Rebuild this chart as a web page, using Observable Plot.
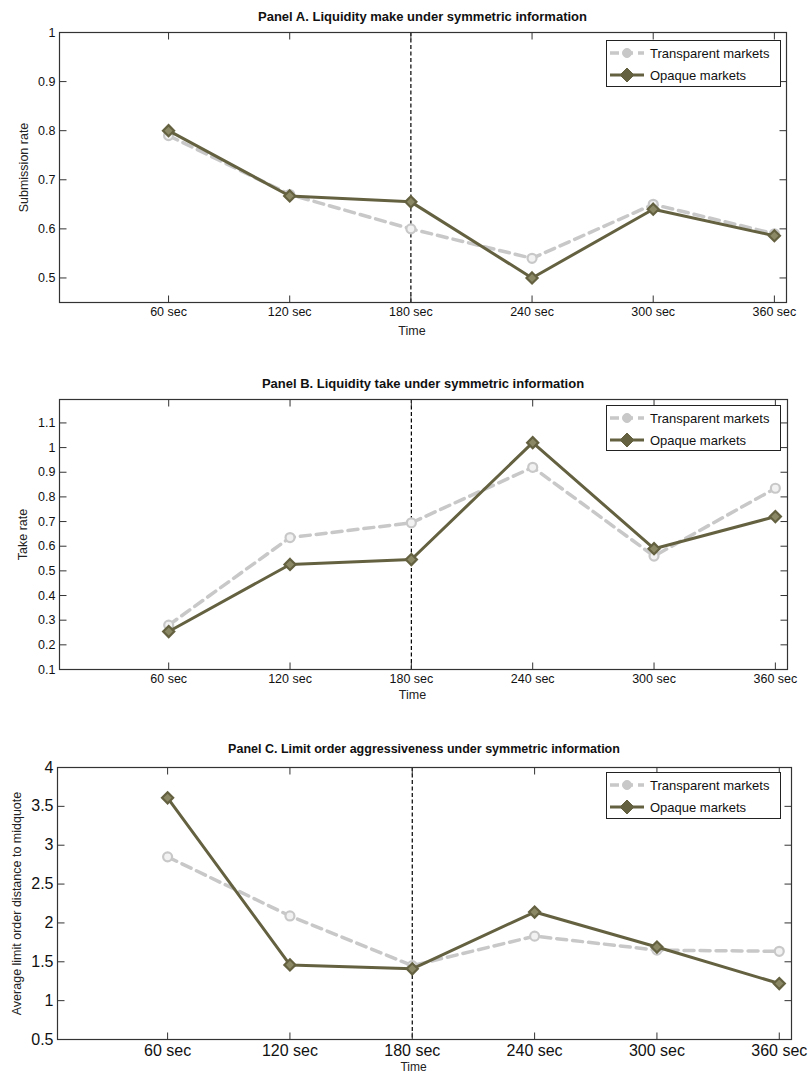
<!DOCTYPE html>
<html>
<head>
<meta charset="utf-8">
<script src="https://cdn.jsdelivr.net/npm/d3@7"></script>
<script src="https://cdn.jsdelivr.net/npm/@observablehq/plot@0.6"></script>
<style>
  body { margin: 0; background: white; font-family: "Liberation Sans", Arial, sans-serif; }
  #wrap { position: relative; width: 808px; height: 1076px; overflow: hidden; background: white; }
  .title { position: absolute; font-weight: bold; font-size: 13px; color: #111; white-space: nowrap; transform: translate(-50%, -50%); }
  .panel { position: absolute; left: 0; }
  .legend { position: absolute; border: 1px solid #222; background: white; box-sizing: border-box; }
  .legend .row { position: absolute; left: 0; height: 20px; display: flex; align-items: center; }
  .legend .row span { font-size: 13px; color: #111; margin-left: 3px; white-space: nowrap; }
</style>
</head>
<body>
<div id="wrap"></div>
<script>
// ---- data ----
const times = [60, 120, 180, 240, 300, 360];
const timeLabels = ["60 sec", "120 sec", "180 sec", "240 sec", "300 sec", "360 sec"];
const seriesNames = ["Transparent markets", "Opaque markets"];

const makeTransparent = [0.79, 0.67, 0.60, 0.54, 0.65, 0.59];
const makeOpaque      = [0.80, 0.667, 0.655, 0.50, 0.64, 0.586];

const takeTransparent = [0.28, 0.635, 0.695, 0.92, 0.56, 0.835];
const takeOpaque      = [0.254, 0.526, 0.546, 1.02, 0.59, 0.72];

const aggrTransparent = [2.85, 2.09, 1.45, 1.83, 1.65, 1.635];
const aggrOpaque      = [3.61, 1.46, 1.41, 2.14, 1.69, 1.22];

const titles = [
  "Panel A. Liquidity make under symmetric information",
  "Panel B. Liquidity take under symmetric information",
  "Panel C. Limit order aggressiveness under symmetric information"
];
const yLabels = ["Submission rate", "Take rate", "Average limit order distance to midquote"];
const xLabel = "Time";
const yTicksA = [0.5, 0.6, 0.7, 0.8, 0.9, 1];
const yTicksB = [0.1, 0.2, 0.3, 0.4, 0.5, 0.6, 0.7, 0.8, 0.9, 1, 1.1];
const yTicksC = [0.5, 1, 1.5, 2, 2.5, 3, 3.5, 4];
const eventTime = 180;

// ---- styles ----
const transColor = "#c8c8c8";
const opaqueColor = "#646141";
const opaqueFill = "#8b8865";
const frameColor = "#333";

const tickLen = 7;
const sym = (dx, dy) => ({ draw(ctx) { ctx.moveTo(0, 0); ctx.lineTo(dx, dy); } });
const tickUp = sym(0, -tickLen), tickDown = sym(0, tickLen),
      tickRight = sym(tickLen, 0), tickLeft = sym(-tickLen, 0);

const wrap = document.getElementById("wrap");
const fmt = d => String(+d.toFixed(1));

function panel(cfg) {
  const { top, height, mt, mb, ml, mr, ydom, yticks, trans, opaque, ylabel,
          tickFont, xPad, ylabelDx, titleY, timeDy, timeFont, legendTop, legendH, legendRows } = cfg;
  const xdom = [6, 366];
  const tData = times.map((t, i) => ({ t, v: trans[i] }));
  const oData = times.map((t, i) => ({ t, v: opaque[i] }));
  const chart = Plot.plot({
    width: 808, height,
    marginTop: mt, marginBottom: mb, marginLeft: ml, marginRight: mr,
    style: { fontFamily: "'Liberation Sans', Arial, sans-serif", fontSize: tickFont + "px", color: "#111", background: "transparent", overflow: "visible" },
    x: { domain: xdom, ticks: times, tickFormat: (d) => timeLabels[times.indexOf(d)], tickSize: 0, tickPadding: xPad, label: null },
    y: { domain: ydom, ticks: yticks, tickFormat: fmt, tickSize: 0, tickPadding: 4, label: null },
    marks: [
      Plot.ruleX([eventTime], { stroke: "#000", strokeWidth: 1.2, strokeDasharray: "4,2.5" }),
      Plot.line(tData, { x: "t", y: "v", stroke: transColor, strokeWidth: 3.5, strokeDasharray: "10,6" }),
      Plot.dot(tData, { x: "t", y: "v", symbol: "circle", r: 4.5, stroke: transColor, strokeWidth: 2.2, fill: "#f2f2f2" }),
      Plot.line(oData, { x: "t", y: "v", stroke: opaqueColor, strokeWidth: 3 }),
      Plot.dot(oData, { x: "t", y: "v", symbol: "diamond2", r: 5, stroke: opaqueColor, strokeWidth: 2.2, fill: opaqueFill }),
      Plot.dot(times, { x: d => d, y: ydom[0], symbol: tickUp, fill: "none", stroke: frameColor, strokeWidth: 1 }),
      Plot.dot(times, { x: d => d, y: ydom[1], symbol: tickDown, fill: "none", stroke: frameColor, strokeWidth: 1 }),
      Plot.dot(yticks, { x: xdom[0], y: d => d, symbol: tickRight, fill: "none", stroke: frameColor, strokeWidth: 1 }),
      Plot.dot(yticks, { x: xdom[1], y: d => d, symbol: tickLeft, fill: "none", stroke: frameColor, strokeWidth: 1 }),
      Plot.frame({ stroke: frameColor, strokeWidth: 1.2 }),
      Plot.text([ylabel], { frameAnchor: "left", textAnchor: "middle", rotate: -90, dx: ylabelDx, fontSize: 12.5, fill: "#222" }),
      Plot.text([xLabel], { frameAnchor: "bottom", textAnchor: "middle", dx: -11, dy: timeDy, fontSize: timeFont, fill: "#222" })
    ]
  });
  chart.classList.add("panel");
  chart.style.top = top + "px";
  wrap.appendChild(chart);

  const t = document.createElement("div");
  t.className = "title";
  t.textContent = cfg.title;
  t.style.left = (ml + (808 - mr - ml) / 2) + "px";
  t.style.top = titleY + "px";
  t.style.fontSize = cfg.titleFont + "px";
  wrap.appendChild(t);

  // legend
  const lg = document.createElement("div");
  lg.className = "legend";
  lg.style.left = "606px"; lg.style.top = legendTop + "px";
  lg.style.width = "175px"; lg.style.height = legendH + "px";
  const swatches = [
    `<svg width="40" height="20"><line x1="3" y1="10" x2="37" y2="10" stroke="${transColor}" stroke-width="3.5" stroke-dasharray="9,5"/><circle cx="20" cy="10" r="4.5" fill="${transColor}" stroke="${transColor}"/></svg>`,
    `<svg width="40" height="20"><line x1="3" y1="10" x2="37" y2="10" stroke="${opaqueColor}" stroke-width="3"/><path d="M20,3L27,10L20,17L13,10Z" fill="${opaqueColor}" stroke="${opaqueColor}" stroke-width="1"/></svg>`
  ];
  seriesNames.forEach((name, i) => {
    const r = document.createElement("div");
    r.className = "row";
    r.style.top = (legendRows[i] - 10) + "px";
    r.innerHTML = swatches[i] + `<span>${name}</span>`;
    lg.appendChild(r);
  });
  wrap.appendChild(lg);
}

panel({ top: 0, height: 345, mt: 32, mb: 43, ml: 59, mr: 22, ydom: [0.45, 1], yticks: yTicksA,
        trans: makeTransparent, opaque: makeOpaque, ylabel: yLabels[0], title: titles[0], titleFont: 13,
        tickFont: 12.5, xPad: 5, ylabelDx: -36, titleY: 16, timeDy: 32, timeFont: 12.5,
        legendTop: 40, legendH: 47, legendRows: [12, 34] });

panel({ top: 365, height: 345, mt: 34, mb: 41, ml: 59, mr: 21, ydom: [0.1, 1.195], yticks: yTicksB,
        trans: takeTransparent, opaque: takeOpaque, ylabel: yLabels[1], title: titles[1], titleFont: 13,
        tickFont: 12.5, xPad: 5, ylabelDx: -37, titleY: 383, timeDy: 29, timeFont: 12.5,
        legendTop: 405, legendH: 46, legendRows: [12, 34] });

panel({ top: 728, height: 348, mt: 39, mb: 37, ml: 57, mr: 17, ydom: [0.5, 4], yticks: yTicksC,
        trans: aggrTransparent, opaque: aggrOpaque, ylabel: yLabels[2], title: titles[2], titleFont: 12.5,
        tickFont: 16, xPad: 5, ylabelDx: -41, titleY: 749, timeDy: 31, timeFont: 12,
        legendTop: 772, legendH: 47, legendRows: [12, 34] });
</script>
</body>
</html>
